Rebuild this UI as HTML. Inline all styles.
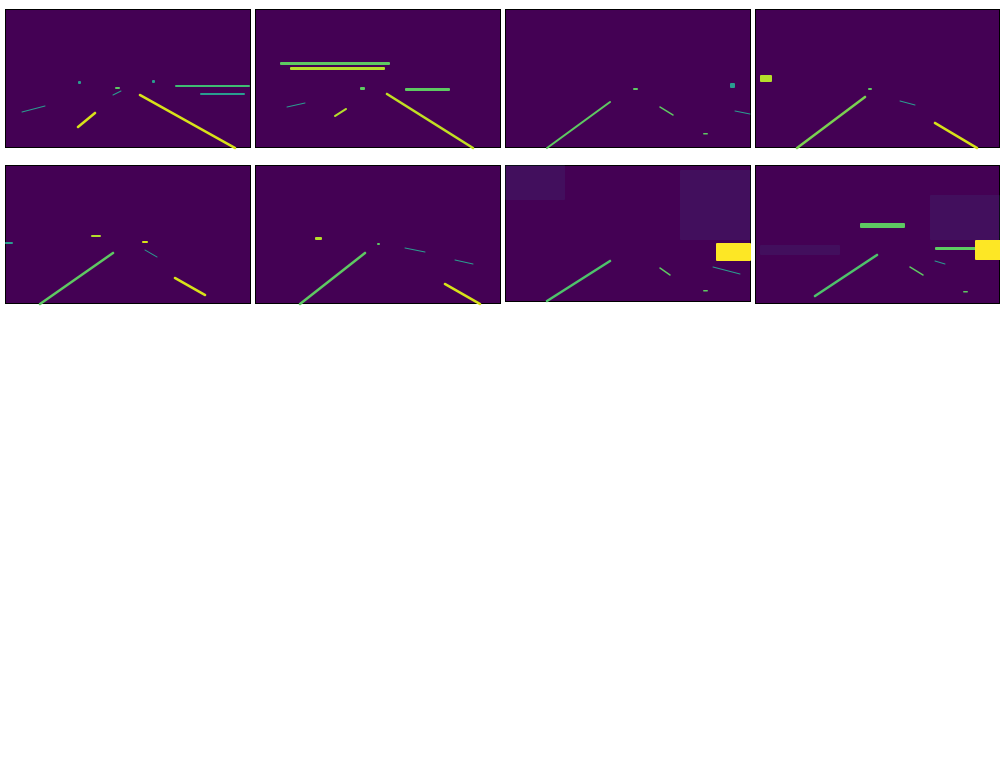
<!DOCTYPE html>
<html><head><meta charset="utf-8"><style>
html,body{margin:0;padding:0;background:#fff;width:1000px;height:779px;overflow:hidden;font-family:"Liberation Sans",sans-serif}
</style></head><body>
<svg id="fig" width="1000" height="779" xmlns="http://www.w3.org/2000/svg"></svg>
<script>
const panelX = [5,255,505,755,5,255,505,755];
const panelY = [9,9,9,9,165,165,165,165];
const panelH = [139,139,139,139,139,139,137,139];
// lane segments per panel: [x1,y1,x2,y2,width,color]
const lanes = [
 [[135,86,230,139,2.5,'#d8e219'],[73,118,90,104,2.5,'#d8e219'],[17,103,40,97,1,'#2a9d8f'],[108,86,116,82,1,'#2a9d8f']],
 [[132,85,218,139,2.5,'#c2df23'],[80,107,91,100,2,'#b5de2b'],[32,98,50,94,1,'#2a9d8f']],
 [[42,139,105,93,2,'#5ec962'],[155,98,168,106,1.5,'#5ec962'],[230,102,245,105,1,'#2a9d8f']],
 [[42,139,110,88,2.5,'#7ad151'],[180,114,222,139,2.5,'#d8e219'],[145,92,160,96,1,'#2a9d8f']],
 [[35,139,108,88,2.5,'#5ec962'],[170,113,200,130,2.5,'#d8e219'],[140,85,152,92,1,'#2a9d8f']],
 [[45,139,110,88,2.5,'#5ec962'],[190,119,225,139,2.5,'#d8e219'],[150,83,170,87,1,'#2a9d8f'],[200,95,218,99,1,'#2a9d8f']],
 [[42,136,105,96,2.5,'#4ec36b'],[155,103,165,110,1.5,'#5ec962'],[208,102,235,109,1,'#2a9d8f']],
 [[60,131,122,90,2.5,'#4ec36b'],[155,102,168,110,1.5,'#5ec962'],[180,96,190,99,1,'#2a9d8f']]
];
// blobs per panel: [x,y,w,h,color]
const blobs = [
 [[170,76,75,2,'#3fbc73'],[195,84,45,2,'#2a9d8f'],[110,78,5,2,'#5ec962'],[73,72,3,3,'#2a9d8f'],[147,71,3,3,'#2a9d8f']],
 [[25,53,110,3,'#5ec962'],[35,58,95,3,'#b5de2b'],[150,79,45,3,'#5ec962'],[105,78,5,3,'#5ec962']],
 [[128,79,5,2,'#5ec962'],[225,74,5,5,'#2a9d8f'],[198,124,5,1.5,'#5ec962']],
 [[5,66,12,7,'#b5de2b'],[113,79,4,2,'#5ec962']],
 [[86,70,10,2,'#b5de2b'],[137,76,6,2,'#d8e219'],[0,77,8,2,'#2a9d8f']],
 [[60,72,7,3,'#b5de2b'],[122,78,3,2,'#5ec962']],
 [[211,78,35,18,'#fde725'],[198,125,5,1.5,'#5ec962'],[0,0,60,35,'#3b528b'],[175,5,71,70,'#3b528b']],
 [[105,58,45,5,'#5ec962'],[180,82,45,3,'#5ec962'],[220,75,26,20,'#fde725'],[175,30,70,45,'#3b528b'],[5,80,80,10,'#3b528b'],[208,126,5,1.5,'#5ec962']]
];
const svg = document.getElementById('fig');
const NS = 'http://www.w3.org/2000/svg';
for (let i = 0; i < 8; i++) {
  const g = document.createElementNS(NS,'g');
  
  
  g.setAttribute('transform','translate('+panelX[i]+','+panelY[i]+')');
  const w = i%4===3 ? 245 : 246;
  const bg = document.createElementNS(NS,'rect');
  bg.setAttribute('x',0.5);bg.setAttribute('y',0.5);bg.setAttribute('width',w-1);bg.setAttribute('height',panelH[i]-1);
  bg.setAttribute('fill','#440154');bg.setAttribute('stroke','#000');bg.setAttribute('stroke-width','1');
  
  
  g.appendChild(bg);
  blobs[i].forEach(b => {
    const r = document.createElementNS(NS,'rect');
    r.setAttribute('x',b[0]);r.setAttribute('y',b[1]);r.setAttribute('width',b[2]);r.setAttribute('height',b[3]);
    r.setAttribute('fill',b[4]);
    if (b[4]==='#3b528b') r.setAttribute('opacity','0.18');
    r.setAttribute('rx',1);
    
    
    g.appendChild(r);
  });
  lanes[i].forEach(l => {
    const ln = document.createElementNS(NS,'line');
    ln.setAttribute('x1',l[0]);ln.setAttribute('y1',l[1]);ln.setAttribute('x2',l[2]);ln.setAttribute('y2',l[3]);
    ln.setAttribute('stroke',l[5]);ln.setAttribute('stroke-width',l[4]);ln.setAttribute('stroke-linecap','round');
    
    
    g.appendChild(ln);
  });
  svg.appendChild(g);
}
</script>
</body></html>
